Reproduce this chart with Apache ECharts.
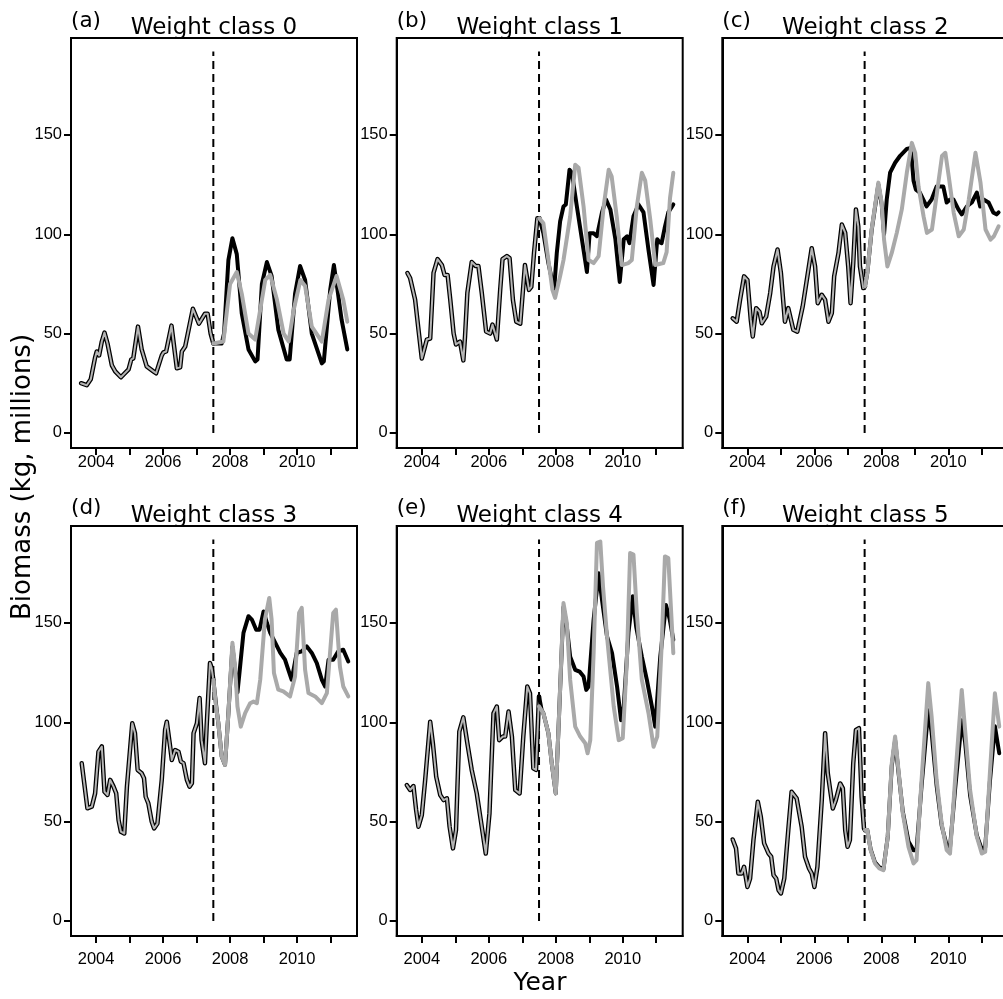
<!DOCTYPE html>
<html>
<head>
<meta charset="utf-8">
<script src="https://cdn.jsdelivr.net/npm/echarts@6/dist/echarts.min.js"></script>
<style>
html,body{margin:0;padding:0;background:#fff;overflow:hidden;width:1003px;height:999px;}
#chart{width:1012px;height:999px;}
</style>
</head>
<body>
<div id="chart"></div>
<script>
// ---------------- DATA ----------------
const panelLetters = ['(a)', '(b)', '(c)', '(d)', '(e)', '(f)'];
const panelTitles = ['Weight class 0', 'Weight class 1', 'Weight class 2', 'Weight class 3', 'Weight class 4', 'Weight class 5'];
const xTickValues = [2004, 2005, 2006, 2007, 2008, 2009, 2010, 2011];
const xLabelValues = [2004, 2006, 2008, 2010];
const yTickValues = [0, 50, 100, 150];
const interventionYear = 2007.5;
const interventionLine = [[interventionYear, 0], [interventionYear, 192]];
const yAxisTitle = 'Biomass (kg, millions)';
const xAxisTitle = 'Year';

// [year, biomass] - period before 2007.5 (observed)
const preA = [[2003.55,25],[2003.72,24],[2003.84,27],[2003.97,38],[2004.02,41],[2004.09,39],[2004.17,46],[2004.25,50.5],[2004.34,45],[2004.47,34],[2004.57,31],[2004.74,28],[2004.97,32],[2005.05,37],[2005.11,37.5],[2005.25,53.5],[2005.36,42],[2005.51,33.5],[2005.71,31],[2005.79,30],[2005.96,39],[2006.01,40.5],[2006.09,41],[2006.25,54],[2006.41,32.5],[2006.51,33],[2006.56,41],[2006.66,43.5],[2006.89,62.5],[2007.07,55],[2007.25,60],[2007.33,60],[2007.42,50],[2007.5,45]];
const blackA = [[2007.5,45],[2007.75,45],[2007.82,50],[2007.95,87],[2008.07,98],[2008.2,90],[2008.35,60],[2008.55,42],[2008.75,36],[2008.82,37],[2008.95,75],[2009.1,86],[2009.24,79],[2009.44,52],[2009.69,37],[2009.78,37],[2009.94,70],[2010.09,84],[2010.24,77],[2010.44,50],[2010.74,35],[2010.8,36],[2010.99,72],[2011.1,84.5],[2011.2,73],[2011.33,57],[2011.5,42]];
const grayA = [[2007.5,45],[2007.8,46],[2008.0,75],[2008.2,81],[2008.35,70],[2008.55,50],[2008.75,47],[2008.9,62],[2009.05,77],[2009.2,79.5],[2009.4,67],[2009.6,50],[2009.75,46],[2009.9,62],[2010.1,77],[2010.24,74],[2010.44,53.5],[2010.74,46],[2010.94,67],[2011.18,79],[2011.38,67],[2011.5,56]];

const preB = [[2003.57,80.5],[2003.65,78],[2003.8,67],[2003.9,52],[2004.0,37.5],[2004.15,47],[2004.25,47.5],[2004.35,80.5],[2004.47,87.5],[2004.6,84.5],[2004.68,79.5],[2004.77,79.5],[2004.85,67],[2004.95,50],[2005.02,44.5],[2005.14,46],[2005.24,36.5],[2005.29,48.5],[2005.36,70.5],[2005.49,86],[2005.61,84],[2005.69,84],[2005.79,70.5],[2005.92,51],[2006.04,50],[2006.11,54.5],[2006.24,47],[2006.34,72],[2006.41,87.5],[2006.54,89],[2006.62,88],[2006.72,67],[2006.82,56],[2006.94,55],[2007.08,84.5],[2007.2,72],[2007.27,73.5],[2007.35,90.5],[2007.45,108],[2007.51,108]];
const blackB = [[2007.51,108],[2007.63,100.5],[2007.78,85.5],[2007.95,72],[2008.03,90.5],[2008.13,106.5],[2008.23,114],[2008.3,115],[2008.41,132.5],[2008.48,131],[2008.63,114],[2008.78,97.5],[2008.93,81],[2009.01,100.5],[2009.13,100.5],[2009.23,99],[2009.38,111],[2009.5,117.5],[2009.63,112.5],[2009.78,97.5],[2009.91,76],[2010.03,97.5],[2010.13,99],[2010.2,95.5],[2010.32,109],[2010.47,115],[2010.62,111],[2010.77,92],[2010.92,74.5],[2011.03,97.5],[2011.1,96],[2011.16,95.5],[2011.25,103],[2011.36,111],[2011.51,115]];
const grayB = [[2007.51,108],[2007.63,105.5],[2007.78,87],[2007.9,72],[2007.98,68],[2008.13,79],[2008.23,87],[2008.43,109],[2008.58,135],[2008.68,133.5],[2008.83,114],[2008.98,87],[2009.13,85.5],[2009.28,89],[2009.43,114],[2009.58,132.5],[2009.67,129],[2009.82,109],[2009.97,84.5],[2010.17,85.5],[2010.27,87],[2010.42,114],[2010.57,131],[2010.67,127],[2010.82,107.5],[2010.97,84.5],[2011.21,85.5],[2011.31,91],[2011.41,118],[2011.51,131]];

const preC = [[2003.56,57.7],[2003.68,56],[2003.78,67],[2003.9,78.8],[2004.0,77],[2004.1,57],[2004.16,48.5],[2004.26,62.8],[2004.36,61],[2004.43,55.2],[2004.56,58.6],[2004.68,70.4],[2004.78,83.8],[2004.9,92.3],[2005.0,80.5],[2005.12,56],[2005.22,62.8],[2005.37,51.9],[2005.49,51],[2005.65,63.6],[2005.79,78.8],[2005.92,93],[2006.02,83.8],[2006.1,65.3],[2006.22,69.5],[2006.32,67],[2006.42,56],[2006.52,60.3],[2006.59,78.8],[2006.72,90.6],[2006.82,104.9],[2006.92,100.7],[2007.01,83.8],[2007.08,65.3],[2007.16,85.5],[2007.24,112.5],[2007.31,104],[2007.36,83.8],[2007.46,72.9],[2007.51,73.7]];
const blackC = [[2007.51,73.7],[2007.58,80.5],[2007.71,102],[2007.91,125],[2008.01,115],[2008.08,100],[2008.16,117.5],[2008.26,131],[2008.41,136],[2008.56,139.5],[2008.76,143],[2008.88,143.5],[2008.96,127],[2009.03,122.5],[2009.15,121],[2009.35,114],[2009.5,117.5],[2009.65,124],[2009.85,124],[2009.95,116],[2010.05,117.5],[2010.15,117.5],[2010.3,112.5],[2010.4,110],[2010.55,114],[2010.7,116],[2010.85,121],[2010.95,114],[2011.05,117.5],[2011.2,116],[2011.34,111],[2011.44,110],[2011.5,111]];
const grayC = [[2007.51,73.7],[2007.58,80.5],[2007.71,102.4],[2007.91,126],[2008.01,115.8],[2008.08,97.3],[2008.18,83.8],[2008.31,90.6],[2008.46,100.7],[2008.61,112.5],[2008.76,131],[2008.91,146],[2009.01,141],[2009.11,124],[2009.26,109],[2009.36,100.7],[2009.51,102.4],[2009.66,120.9],[2009.81,139.4],[2009.91,141],[2010.01,129.3],[2010.16,110.8],[2010.31,99],[2010.46,102.4],[2010.61,117.5],[2010.81,141],[2010.96,126],[2011.11,102.4],[2011.26,97.3],[2011.36,99],[2011.5,104]];

const preD = [[2003.57,79.4],[2003.74,56.7],[2003.87,57.5],[2003.97,64.2],[2004.07,85.2],[2004.17,87.8],[2004.25,65],[2004.34,63.4],[2004.42,71],[2004.52,67.6],[2004.6,64.2],[2004.67,50.8],[2004.74,44.9],[2004.84,44],[2004.92,67.6],[2005.08,99.5],[2005.16,94.5],[2005.24,76],[2005.36,74.3],[2005.43,71.8],[2005.48,62.5],[2005.56,59.2],[2005.66,50],[2005.73,46.6],[2005.83,49],[2005.96,71],[2006.06,96.2],[2006.11,100.3],[2006.21,87.8],[2006.26,81],[2006.36,86],[2006.46,85.2],[2006.53,80.2],[2006.61,79.4],[2006.71,71],[2006.79,67.6],[2006.86,69.3],[2006.91,94.5],[2007.01,99.5],[2007.09,112.2],[2007.15,91],[2007.25,79.4],[2007.3,97.8],[2007.4,129.8],[2007.45,127.3],[2007.5,121.4]];
const blackD = [[2007.5,121.4],[2007.6,106],[2007.65,99.5],[2007.75,82.7],[2007.85,78.5],[2007.95,104.6],[2008.07,138],[2008.15,126],[2008.22,115],[2008.28,124.8],[2008.4,145],[2008.55,153.4],[2008.65,151.7],[2008.78,146.6],[2008.88,146.6],[2009.0,155.8],[2009.1,150],[2009.2,145],[2009.35,140],[2009.5,134.9],[2009.64,131.5],[2009.74,126.4],[2009.84,121.4],[2009.99,134.9],[2010.14,135.7],[2010.29,138.2],[2010.44,134.9],[2010.59,129.8],[2010.74,121.4],[2010.84,118],[2010.94,131.5],[2011.08,131.5],[2011.23,135.7],[2011.38,136.5],[2011.53,130.6]];
const grayD = [[2007.5,121.4],[2007.58,108],[2007.65,99.5],[2007.75,82.7],[2007.85,78.5],[2007.95,104.6],[2008.07,140],[2008.15,128],[2008.22,108],[2008.32,97.8],[2008.45,104.6],[2008.6,109.6],[2008.7,110.4],[2008.8,109.6],[2008.9,121.4],[2009.04,151.7],[2009.17,162.6],[2009.24,151.7],[2009.31,124.8],[2009.44,116.4],[2009.59,115.5],[2009.79,113],[2009.94,123],[2010.06,155],[2010.14,157.6],[2010.24,126.4],[2010.34,114.7],[2010.54,113],[2010.74,109.6],[2010.89,114.7],[2011.08,155],[2011.16,156.7],[2011.28,128],[2011.38,118],[2011.53,113]];

const preE = [[2003.55,68.4],[2003.65,65.9],[2003.75,67.9],[2003.83,55.8],[2003.9,47.4],[2004.0,53.3],[2004.1,70.9],[2004.25,100.3],[2004.33,89.4],[2004.43,72.6],[2004.55,63.4],[2004.65,60.8],[2004.75,61.7],[2004.83,47.4],[2004.93,36.5],[2005.02,45.7],[2005.12,95.3],[2005.24,102.5],[2005.36,89.4],[2005.49,76],[2005.64,64.2],[2005.79,47.4],[2005.91,33.9],[2006.02,54.1],[2006.14,104.5],[2006.24,107.9],[2006.31,91],[2006.42,92.8],[2006.49,92.8],[2006.59,105.4],[2006.69,92.8],[2006.79,65.9],[2006.92,64.2],[2007.03,92.8],[2007.15,118],[2007.23,114.6],[2007.33,76.8],[2007.41,76],[2007.45,92.8],[2007.5,113]];
const blackE = [[2007.5,113],[2007.58,106],[2007.63,104.5],[2007.78,94.5],[2007.88,79.3],[2008.0,64.2],[2008.1,104.5],[2008.23,158],[2008.33,148],[2008.43,133],[2008.58,126.4],[2008.71,125.5],[2008.83,123],[2008.91,116.3],[2008.98,118],[2009.13,151.6],[2009.28,175],[2009.38,161.7],[2009.53,143.2],[2009.68,134.8],[2009.83,118],[2009.95,101],[2010.03,108],[2010.17,145],[2010.3,163.4],[2010.4,148.2],[2010.57,133],[2010.72,121.3],[2010.87,108],[2010.97,97.8],[2011.12,133],[2011.29,159],[2011.4,152],[2011.51,141.5]];
const grayE = [[2007.5,108],[2007.63,104.5],[2007.78,94.5],[2007.88,79.3],[2008.0,64.2],[2008.1,104.5],[2008.23,160],[2008.33,150],[2008.43,121.3],[2008.58,97.8],[2008.73,92.8],[2008.88,89.4],[2008.95,84.4],[2009.03,91],[2009.13,134.8],[2009.23,190.3],[2009.33,191],[2009.41,168.4],[2009.53,143.2],[2009.73,108],[2009.88,91],[2010.0,92],[2010.12,129.7],[2010.22,185.2],[2010.32,184.4],[2010.42,155],[2010.57,121.3],[2010.77,104.5],[2010.92,87.7],[2011.03,92.8],[2011.16,138.2],[2011.26,183.5],[2011.36,182.7],[2011.51,134.8]];

const preF = [[2003.56,41],[2003.66,36.5],[2003.73,23.9],[2003.83,23.9],[2003.9,27.2],[2004.0,17.1],[2004.08,21.3],[2004.18,40.7],[2004.31,60],[2004.4,52.4],[2004.5,39],[2004.63,34],[2004.71,32.3],[2004.78,23],[2004.86,21.3],[2004.93,15.5],[2005.0,13.8],[2005.1,21.3],[2005.22,45.7],[2005.32,65],[2005.47,61.7],[2005.62,47.4],[2005.72,32.3],[2005.84,26.4],[2005.92,23.9],[2006.0,17.1],[2006.09,27.2],[2006.22,60.8],[2006.32,94.5],[2006.4,74.3],[2006.55,56.6],[2006.64,60.8],[2006.77,69.2],[2006.85,66.7],[2006.92,45.7],[2006.99,37.3],[2007.06,40.7],[2007.16,79.3],[2007.24,96.1],[2007.33,97],[2007.41,62.5],[2007.48,46.6],[2007.51,45.7]];
const blackF = [[2007.51,45.7],[2007.58,45.7],[2007.68,36],[2007.81,29.5],[2007.94,27],[2008.06,26],[2008.19,42.4],[2008.31,78],[2008.41,91],[2008.51,75],[2008.64,55],[2008.81,40],[2008.96,35.6],[2009.05,35.6],[2009.2,68],[2009.4,106],[2009.5,95],[2009.65,68],[2009.8,48],[2009.95,38],[2010.05,37],[2010.2,66],[2010.4,101],[2010.5,90],[2010.65,63],[2010.85,43],[2011.0,36],[2011.1,37],[2011.24,70],[2011.39,98],[2011.52,84.4]];
const grayF = [[2007.51,45.7],[2007.58,45.7],[2007.68,35.6],[2007.81,28.9],[2007.94,26.4],[2008.06,25.5],[2008.19,42.4],[2008.31,79.3],[2008.41,92.8],[2008.51,76],[2008.64,54.1],[2008.81,37.3],[2008.96,28.9],[2009.05,30.6],[2009.2,70.9],[2009.4,119.7],[2009.5,102.9],[2009.65,70.9],[2009.8,49],[2009.95,35.6],[2010.05,33.9],[2010.2,70.9],[2010.4,116.3],[2010.5,96.1],[2010.65,65.9],[2010.85,42.4],[2011.0,33.9],[2011.1,34.8],[2011.24,74.3],[2011.39,114.6],[2011.52,97.8]];

const preSeries = [preA, preB, preC, preD, preE, preF];
const blackSeries = [blackA, blackB, blackC, blackD, blackE, blackF];
const graySeries = [grayA, grayB, grayC, grayD, grayE, grayF];

// ---------------- LAYOUT ----------------
const colLeft = [71, 396.7, 722.3];
const rowTop = [38, 526];
const plotW = 286, plotH = 410;
const xMin = 2003.25, xMax = 2011.79;
const yMin = -7.6, yMax = 198.8;
const tickFont = 'Liberation Sans';
const titleFont = 'DejaVu Sans, sans-serif';

const grids = [], xAxes = [], yAxes = [], series = [], graphics = [];
for (let i = 0; i < 6; i++) {
  const r = Math.floor(i / 3), c = i % 3;
  const left = colLeft[c], top = rowTop[r];
  grids.push({ left: left, top: top, width: plotW, height: plotH, show: true, borderColor: '#000', borderWidth: 2, backgroundColor: 'transparent', containLabel: false });
  xAxes.push({
    type: 'value', gridIndex: i, min: xMin, max: xMax,
    axisLine: { show: true, onZero: false, lineStyle: { color: '#000', width: 2 } },
    axisTick: { show: true, length: 7, lineStyle: { color: '#000', width: 2 }, customValues: xTickValues },
    axisLabel: { show: true, customValues: xLabelValues, formatter: v => String(v), color: '#000', fontSize: 16.5, fontFamily: tickFont, margin: r === 0 ? 6 : 15 },
    splitLine: { show: false }
  });
  yAxes.push({
    type: 'value', gridIndex: i, min: yMin, max: yMax,
    axisLine: { show: true, onZero: false, lineStyle: { color: '#000', width: 2 } },
    axisTick: { show: true, length: 7, lineStyle: { color: '#000', width: 2 }, customValues: yTickValues },
    axisLabel: { show: true, customValues: yTickValues, formatter: v => String(v), color: '#000', fontSize: 16.5, fontFamily: tickFont, margin: 9 },
    splitLine: { show: false }
  });
  const base = { type: 'line', xAxisIndex: i, yAxisIndex: i, showSymbol: false, symbol: 'none', silent: true, animation: false, smooth: false };
  series.push(Object.assign({}, base, { data: interventionLine, z: 1, lineStyle: { color: '#000', width: 2, type: [8, 5] } }));
  series.push(Object.assign({}, base, { data: preSeries[i], z: 2, lineStyle: { color: '#000', width: 4.5, cap: 'round', join: 'round' } }));
  series.push(Object.assign({}, base, { data: preSeries[i], z: 3, lineStyle: { color: '#b5b5b5', width: 2, cap: 'round', join: 'round' } }));
  series.push(Object.assign({}, base, { data: blackSeries[i], z: 4, lineStyle: { color: '#000', width: 4, cap: 'round', join: 'round' } }));
  series.push(Object.assign({}, base, { data: graySeries[i], z: 5, lineStyle: { color: '#a9a9a9', width: 4, cap: 'round', join: 'round' } }));

  const letterY = r === 0 ? 21 : 508;
  const titleY = r === 0 ? 28.5 : 516.5;
  graphics.push({ type: 'text', x: left, y: letterY, style: { text: panelLetters[i], fill: '#000', font: '21.5px ' + titleFont, textAlign: 'left', textVerticalAlign: 'middle' } });
  graphics.push({ type: 'text', x: left + plotW / 2, y: titleY, style: { text: panelTitles[i], fill: '#000', font: '23px ' + titleFont, textAlign: 'center', textVerticalAlign: 'middle' } });
}
graphics.push({ type: 'text', x: 23.5, y: 477, rotation: Math.PI / 2, style: { text: yAxisTitle, fill: '#000', font: '26px ' + titleFont, textAlign: 'center', textVerticalAlign: 'middle' } });
graphics.push({ type: 'text', x: 540, y: 983.5, style: { text: xAxisTitle, fill: '#000', font: '25px ' + titleFont, textAlign: 'center', textVerticalAlign: 'middle' } });

const chart = echarts.init(document.getElementById('chart'), null, { renderer: 'canvas', width: 1012, height: 999 });
chart.setOption({
  animation: false,
  backgroundColor: '#fff',
  grid: grids,
  xAxis: xAxes,
  yAxis: yAxes,
  series: series,
  graphic: { elements: graphics }
});
</script>
</body>
</html>
